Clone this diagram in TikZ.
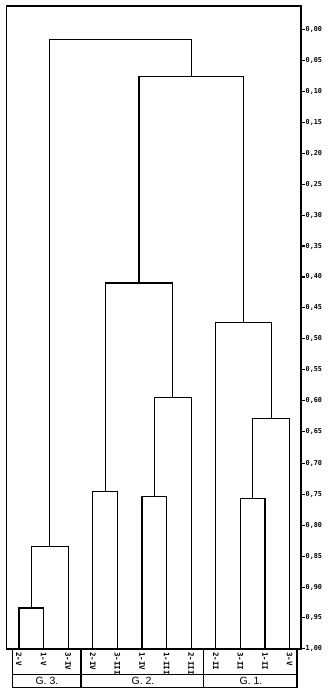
\documentclass[tikz,border=0pt]{standalone}
\usepackage{fontspec}
\newfontfamily\dotfont{DejaVu Sans Mono}
\newfontfamily\grpfont{Liberation Sans}
\begin{document}
\begin{tikzpicture}[
  x=1pt, y=-1pt,
  link/.style={line width=1.2pt},
  frame/.style={line width=1.2pt},
  leaf/.style={rotate=-90, anchor=west, inner sep=0.5pt, font=\dotfont\bfseries\fontsize{7.5}{7.5}\selectfont},
  tick/.style={anchor=west, inner sep=0.6pt, font=\dotfont\bfseries\fontsize{6.8}{6.8}\selectfont},
  group/.style={inner sep=0pt, font=\grpfont\fontsize{10.5}{10.5}\selectfont}
]
\useasboundingbox (0,0) rectangle (330,697);

\draw[frame] (6.5,6) rectangle (301,649);
\draw[frame] (12.7,649) rectangle (297,687.7);
\draw[frame] (12.7,674.3) -- (297,674.3);
\draw[frame] (81,649) -- (81,687.7);
\draw[frame] (203.3,649) -- (203.3,687.7);

\draw[link] (301,29.5) -- (304.5,29.5) node[tick] {0,00};
\draw[link] (301,60.4) -- (304.5,60.4) node[tick] {0,05};
\draw[link] (301,91.4) -- (304.5,91.4) node[tick] {0,10};
\draw[link] (301,122.3) -- (304.5,122.3) node[tick] {0,15};
\draw[link] (301,153.2) -- (304.5,153.2) node[tick] {0,20};
\draw[link] (301,184.1) -- (304.5,184.1) node[tick] {0,25};
\draw[link] (301,215.1) -- (304.5,215.1) node[tick] {0,30};
\draw[link] (301,246.0) -- (304.5,246.0) node[tick] {0,35};
\draw[link] (301,276.9) -- (304.5,276.9) node[tick] {0,40};
\draw[link] (301,307.8) -- (304.5,307.8) node[tick] {0,45};
\draw[link] (301,338.8) -- (304.5,338.8) node[tick] {0,50};
\draw[link] (301,369.7) -- (304.5,369.7) node[tick] {0,55};
\draw[link] (301,400.6) -- (304.5,400.6) node[tick] {0,60};
\draw[link] (301,431.5) -- (304.5,431.5) node[tick] {0,65};
\draw[link] (301,463.4) -- (304.5,463.4) node[tick] {0,70};
\draw[link] (301,494.4) -- (304.5,494.4) node[tick] {0,75};
\draw[link] (301,525.3) -- (304.5,525.3) node[tick] {0,80};
\draw[link] (301,556.2) -- (304.5,556.2) node[tick] {0,85};
\draw[link] (301,587.2) -- (304.5,587.2) node[tick] {0,90};
\draw[link] (301,617.6) -- (304.5,617.6) node[tick] {0,95};
\draw[link] (301,648.5) -- (304.5,648.5) node[tick] {1,00};

\coordinate (l2V) at (19,649);
\coordinate (l1V) at (43.6,649);
\coordinate (l3IV) at (68.2,649);
\coordinate (l2IV) at (92.8,649);
\coordinate (l3III) at (117.4,649);
\coordinate (l1IV) at (142,649);
\coordinate (l1III) at (166.6,649);
\coordinate (l2III) at (191.2,649);
\coordinate (l2II) at (215.8,649);
\coordinate (l3II) at (240.4,649);
\coordinate (l1II) at (265,649);
\coordinate (l3V) at (289.6,649);

\node[leaf] (t2V) at (19,651.5) {2-V};
\node[leaf] (t1V) at (43.6,651.5) {1-V};
\node[leaf] (t3IV) at (68.2,651.5) {3-IV};
\node[leaf] (t2IV) at (92.8,651.5) {2-IV};
\node[leaf] (t3III) at (117.4,651.5) {3-III};
\node[leaf] (t1IV) at (142,651.5) {1-IV};
\node[leaf] (t1III) at (166.6,651.5) {1-III};
\node[leaf] (t2III) at (191.2,651.5) {2-III};
\node[leaf] (t2II) at (215.8,651.5) {2-II};
\node[leaf] (t3II) at (240.4,651.5) {3-II};
\node[leaf] (t1II) at (265,651.5) {1-II};
\node[leaf] (t3V) at (289.6,651.5) {3-V};

\node[group] (grp3) at (46.9,681.2) {G. 3.};
\node[group] (grp2) at (143,681.2) {G. 2.};
\node[group] (grp1) at (251,681.2) {G. 1.};

\coordinate (g3a) at (31.3,608);
\coordinate (g3) at (49.8,546.7);
\coordinate (g2a) at (105.1,491.7);
\coordinate (g2b) at (154.3,496.7);
\coordinate (g2c) at (172.75,397.7);
\coordinate (g2) at (138.9,283);
\coordinate (g1a) at (252.7,498.3);
\coordinate (g1b) at (271.15,418.3);
\coordinate (g1) at (243.5,322.7);
\coordinate (g12) at (191.2,76.7);
\coordinate (root) at (120.5,39.3);

\draw[link] (l2V) |- (g3a) -| (l1V);
\draw[link] (g3a) |- (g3) -| (l3IV);
\draw[link] (l2IV) |- (g2a) -| (l3III);
\draw[link] (l1IV) |- (g2b) -| (l1III);
\draw[link] (g2b) |- (g2c) -| (l2III);
\draw[link] (g2a) |- (g2) -| (g2c);
\draw[link] (l3II) |- (g1a) -| (l1II);
\draw[link] (g1a) |- (g1b) -| (l3V);
\draw[link] (l2II) |- (g1) -| (g1b);
\draw[link] (g2) |- (g12) -| (g1);
\draw[link] (g3) |- (root) -| (g12);
\end{tikzpicture}
\end{document}
